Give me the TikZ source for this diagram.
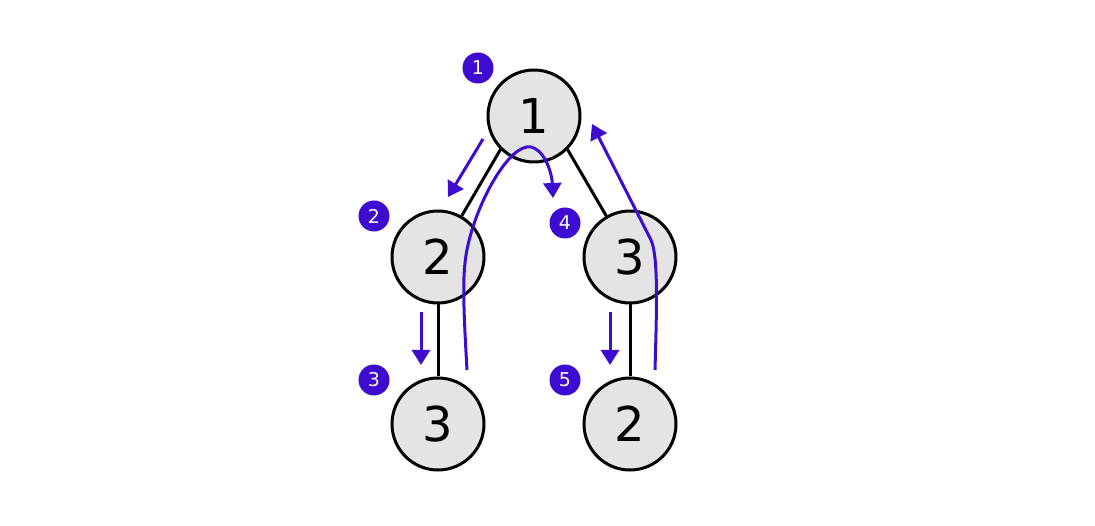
\documentclass[tikz,border=0pt]{standalone}
\usepackage{fontspec}
\setmainfont{DejaVu Sans}
\usetikzlibrary{arrows.meta}
\definecolor{vio}{RGB}{62,12,208}
\definecolor{nodefill}{RGB}{228,228,228}
\begin{document}
\begin{tikzpicture}[x=1pt,y=-1pt,
  tnode/.style={circle,draw=black,line width=3pt,fill=nodefill,minimum size=92pt,inner sep=0pt,font=\fontsize{48}{48}\selectfont},
  badge/.style={circle,fill=vio,text=white,minimum size=31pt,inner sep=0pt,font=\fontsize{19}{19}\selectfont},
  edge/.style={line width=3pt,black},
  walk/.style={draw=vio,line width=3pt,-{Triangle[length=15pt,width=18pt]}}]
\useasboundingbox (0,0) rectangle (1095,526);
\node[tnode] (n1) at (534,116) {1};
\node[tnode] (n2) at (438,257) {2};
\node[tnode] (n3) at (630,257) {3};
\node[tnode] (n4) at (438,424) {3};
\node[tnode] (n5) at (630,424) {2};
\draw[edge] (n1.225) -- (n2.60);
\draw[edge] (n1.-45) -- (n3.120);
\draw[edge] (n2) -- (n4);
\draw[edge] (n3) -- (n5);
\node[badge] (b1) at (478,68) {1};
\node[badge] (b2) at (374,216) {2};
\node[badge] (b4) at (565,223) {4};
\node[badge] (b3) at (374,380) {3};
\node[badge] (b5) at (565,380) {5};
\coordinate (a1s) at (483,139);
\coordinate (a1e) at (448,197);
\coordinate (a2s) at (421,312);
\coordinate (a2e) at (421,365);
\coordinate (a3s) at (610,312);
\coordinate (a3e) at (610,365);
\coordinate (c1s) at (467,370);
\coordinate (c1m) at (468,245);
\coordinate (c1p) at (531,147);
\coordinate (c1e) at (553,198);
\coordinate (c2s) at (655,370);
\coordinate (c2m) at (651,240);
\coordinate (c2e) at (592,124);
\draw[walk] (a1s) -- (a1e);
\draw[walk] (a2s) -- (a2e);
\draw[walk] (a3s) -- (a3e);
\draw[walk] (c1s) .. controls (463,300) and (462,270) .. (c1m)
  .. controls (478,200) and (510,143) .. (c1p)
  .. controls (546,151) and (552,175) .. (c1e);
\draw[walk] (c2s) .. controls (657,300) and (658,256) .. (c2m) -- (c2e);
\end{tikzpicture}
\end{document}
